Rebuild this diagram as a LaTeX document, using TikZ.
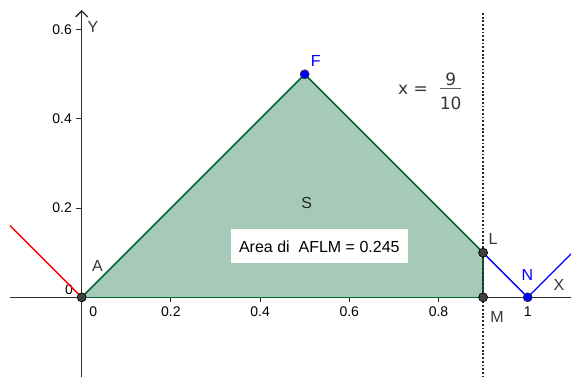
\documentclass[tikz,border=0pt]{standalone}
\usepackage{fontspec}
\setmainfont{Liberation Sans}
\newfontfamily\dejavu{DejaVu Sans}
\usetikzlibrary{arrows.meta}
\definecolor{polyc}{RGB}{0,102,51}
\definecolor{ptgray}{RGB}{64,64,64}
\definecolor{axgray}{RGB}{45,45,45}
\definecolor{lblgray}{RGB}{55,55,55}
\begin{document}
\begin{tikzpicture}[x=1pt,y=-1pt,
  axis/.style={draw=axgray,line width=1.3pt},
  tick/.style={draw=axgray,line width=1.1pt},
  ticklbl/.style={inner sep=0pt,text=black,font=\fontsize{14}{16}\selectfont},
  lbl/.style={inner sep=0pt,text=lblgray,font=\fontsize{16}{19}\selectfont},
  bluelbl/.style={inner sep=0pt,text=blue,font=\fontsize{16}{19}\selectfont},
  edge/.style={draw=polyc,line width=1.6pt},
  pt/.style={circle,minimum size=9pt,inner sep=0pt,fill=ptgray,draw=black,line width=0.7pt},
  bluept/.style={circle,minimum size=9pt,inner sep=0pt,fill=blue,draw=black!80,line width=0.7pt},
  areabox/.style={fill=white,inner sep=0pt,minimum width=176.7pt,minimum height=34pt,text=black,font=\fontsize{16}{19}\selectfont},
  fraclbl/.style={inner sep=0pt,text=lblgray,font=\dejavu\fontsize{17}{20}\selectfont}]
\useasboundingbox (0,0) rectangle (571,376);
\clip (0,0) rectangle (571,376);
% key points
\coordinate (A) at (81.7,297.3);
\coordinate (F) at (304.7,74.3);
\coordinate (L) at (483.1,252.7);
\coordinate (M) at (483.1,297.3);
\coordinate (N) at (527.7,297.3);
\coordinate (R0) at (10,225.6);
\coordinate (B1) at (578,247);
\coordinate (xs) at (10,297.3);
\coordinate (xe) at (580,297.3);
\coordinate (ys) at (81.7,378);
\coordinate (ye) at (81.7,10);
\coordinate (dt) at (483.1,13);
\coordinate (db) at (483.1,378);
% polygon fill
\fill[polyc,fill opacity=0.35] (A) -- (F) -- (L) -- (M) -- cycle;
% axes
\draw[axis,-{Straight Barb[length=6pt,width=12pt]}] (xs) -- (xe);
\draw[axis,-{Straight Barb[length=6pt,width=12pt]}] (ys) -- (ye);
% ticks
\foreach \k/\t in {1/0.2,2/0.4,3/0.6,4/0.8}{
  \draw[tick] (81.7+89.2*\k,297.3) -- (81.7+89.2*\k,302);
  \node[ticklbl] at (81.7+89.2*\k,311.7) {\t};
}
\draw[tick] (N) -- ++(0,4.7);
\node[ticklbl] (t1) at (527.7,311.7) {1};
\foreach \k/\t in {1/0.2,2/0.4,3/0.6}{
  \draw[tick] (81.7,297.3-89.2*\k) -- (76,297.3-89.2*\k);
  \node[ticklbl,anchor=east] at (72,297.3-89.2*\k) {\t};
}
\node[ticklbl] (x0) at (93.3,311.7) {0};
\node[ticklbl] (y0) at (69,289.3) {0};
\node[lbl] (Ylbl) at (93,27) {Y};
\node[lbl] (Xlbl) at (559,285) {X};
% red and blue lines
\draw[red,line width=1.3pt] (R0) -- (A);
\draw[blue,line width=1.3pt] (L) -- (N) -- (B1);
% polygon edges
\draw[edge] (A) -- (F);
\draw[edge] (F) -- (L);
\draw[edge] (L) -- (M);
\draw[edge] (M) -- (A);
% dotted line x = 9/10
\draw[black!85,line width=1.8pt,dash pattern=on 1.8pt off 1.9pt] (dt) -- (db);
% points
\node[pt] (pA) at (A) {};
\node[bluept] (pF) at (F) {};
\node[pt] (pL) at (L) {};
\node[pt] (pM) at (M) {};
\node[bluept] (pN) at (N) {};
% labels
\node[lbl] (lA) at (97.5,265.5) {A};
\node[bluelbl] (lF) at (315.7,60.7) {F};
\node[lbl] (lL) at (493,239.3) {L};
\node[lbl] (lM) at (497,316.7) {M};
\node[bluelbl] (lN) at (527.3,275) {N};
\node[lbl,text=black!85] (lS) at (306.7,202.7) {S};
\node[areabox] (area) at (319.3,246.3) {Area di\ \ AFLM = 0.245};
% x = 9/10
\node[fraclbl,anchor=base west] (xeq) at (398,94.3) {x =};
\node[fraclbl,anchor=base] (num) at (450.7,85.3) {9};
\node[fraclbl,anchor=base] (den) at (450.7,109.3) {10};
\coordinate (fb1) at (440,88.7);
\coordinate (fb2) at (461,88.7);
\draw[lblgray!80,line width=1.2pt] (fb1) -- (fb2);
\end{tikzpicture}
\end{document}
